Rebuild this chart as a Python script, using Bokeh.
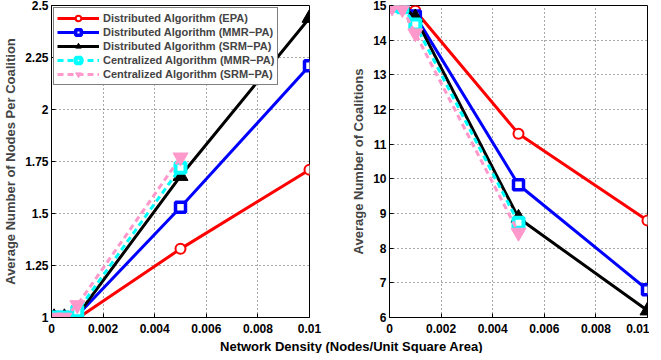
from bokeh.plotting import figure
from bokeh.layouts import column, row
from bokeh.models import Range1d, FixedTicker, Legend, LegendItem
from bokeh.core.properties import value
from bokeh.embed import file_html
from bokeh.resources import INLINE

# ---- data ----
density = [0.0001, 0.0005, 0.001, 0.005, 0.01]
density_c = [0.0001, 0.0005, 0.001, 0.005]

nodes_epa = [1.0, 1.0, 0.995, 1.33, 1.71]
nodes_mmr = [1.0, 1.0, 1.01, 1.53, 2.21]
nodes_srm = [1.0, 1.0, 1.01, 1.68, 2.44]
nodes_c_mmr = [1.0, 1.0, 1.03, 1.72]
nodes_c_srm = [1.0, 1.0, 1.06, 1.77]

coal_epa = [15.0, 15.0, 14.85, 11.3, 8.8]
coal_mmr = [15.0, 15.0, 14.7, 9.83, 6.8]
coal_srm = [15.0, 15.0, 14.65, 8.87, 6.2]
coal_c_mmr = [15.0, 14.95, 14.45, 8.73]
coal_c_srm = [14.95, 14.9, 14.2, 8.45]

x_ticks = [0, 0.002, 0.004, 0.006, 0.008, 0.01]
x_tick_labels = ["0", "0.002", "0.004", "0.006", "0.008", "0.01"]
nodes_ticks = [1, 1.25, 1.5, 1.75, 2, 2.25, 2.5]
nodes_tick_labels = ["1", "1.25", "1.5", "1.75", "2", "2.25", "2.5"]
coal_ticks = [6, 7, 8, 9, 10, 11, 12, 13, 14, 15]

names = ["Distributed Algorithm (EPA)", "Distributed Algorithm (MMR\u2212PA)",
         "Distributed Algorithm (SRM\u2212PA)", "Centralized Algorithm (MMR\u2212PA)",
         "Centralized Algorithm (SRM\u2212PA)"]

FONT = "Liberation Sans"
RED, BLUE, BLACK, CYAN, PINK = "#FF0000", "#0000FF", "#000000", "#00FFFF", "#FF99CC"


def style(p, yticks, ylabels, ylabel):
    p.xaxis.ticker = FixedTicker(ticks=x_ticks)
    p.xaxis.major_label_overrides = dict(zip(x_ticks, x_tick_labels))
    p.yaxis.ticker = FixedTicker(ticks=yticks)
    p.yaxis.major_label_overrides = dict(zip(yticks, ylabels))
    for ax in (p.xaxis, p.yaxis):
        ax.major_label_text_font = FONT
        ax.major_label_text_font_style = "bold"
        ax.major_label_text_font_size = "12px"
        ax.major_label_text_color = "black"
        ax.axis_line_color = "black"
        ax.major_tick_in = 4
        ax.major_tick_out = 0
        ax.minor_tick_line_color = None
        ax.major_label_standoff = 3
    p.xaxis.major_label_standoff = 6
    p.yaxis.axis_label = ylabel
    p.yaxis.axis_label_text_font = FONT
    p.yaxis.axis_label_text_font_style = "bold"
    p.yaxis.axis_label_text_font_size = "13px"
    p.yaxis.axis_label_standoff = 4
    p.grid.grid_line_color = "#555555"
    p.grid.grid_line_dash = "1 3"
    p.grid.grid_line_width = 1
    p.outline_line_color = "black"
    p.outline_line_width = 1
    p.background_fill_color = "white"


def draw(p, xs, ys, color, marker, dash, fill, size, lw):
    r1 = p.line(xs, ys, line_color=color, line_width=3, line_dash=dash)
    r2 = p.scatter(xs, ys, marker=marker, size=size, line_color=color,
                   fill_color=fill, line_width=lw)
    return [r1, r2]


def series(p, d):
    return [
        draw(p, density, d[0], RED, "circle", "solid", "white", 10, 2),
        draw(p, density, d[1], BLUE, "square", "solid", "white", 10, 3.5),
        draw(p, density, d[2], BLACK, "triangle", "solid", BLACK, 15, 1),
        draw(p, density_c, d[3], CYAN, "square", "6 4", "white", 10, 4),
        draw(p, density_c, d[4], PINK, "inverted_triangle", "6 4", PINK, 15, 1),
    ]


# ---- left plot ----
p1 = figure(frame_width=258, frame_height=312, output_backend="svg",
            toolbar_location=None,
            x_range=Range1d(0, 0.01), y_range=Range1d(1, 2.5),
            min_border_left=47, min_border_right=14, min_border_top=5,
            min_border_bottom=22)
style(p1, nodes_ticks, nodes_tick_labels, "Average Number of Nodes Per Coalition")
rs = series(p1, [nodes_epa, nodes_mmr, nodes_srm, nodes_c_mmr, nodes_c_srm])
legend = Legend(items=[LegendItem(label=n, renderers=r) for n, r in zip(names, rs)],
                location="top_left")
legend.label_text_font = FONT
legend.label_text_font_style = "bold"
legend.label_text_font_size = "11px"
legend.border_line_color = "black"
legend.border_line_width = 1
legend.background_fill_alpha = 1
legend.glyph_width = 42
legend.glyph_height = 14
legend.label_height = 14
legend.spacing = 0
legend.padding = 3
legend.margin = 2
legend.label_standoff = 4
p1.add_layout(legend)

# ---- right plot ----
p2 = figure(frame_width=258, frame_height=312, output_backend="svg",
            toolbar_location=None,
            x_range=Range1d(0, 0.01), y_range=Range1d(6, 15),
            min_border_left=66, min_border_right=2, min_border_top=5,
            min_border_bottom=22)
style(p2, coal_ticks, [str(t) for t in coal_ticks], "Average Number of Coalitions")
series(p2, [coal_epa, coal_mmr, coal_srm, coal_c_mmr, coal_c_srm])

# ---- shared x label ----
p3 = figure(width=645, height=14, output_backend="svg", toolbar_location=None,
            x_range=Range1d(0, 645), y_range=Range1d(0, 14),
            min_border=0)
p3.axis.visible = False
p3.grid.visible = False
p3.outline_line_color = None
p3.text(x=[351], y=[7], text=["Network Density (Nodes/Unit Square Area)"],
        text_font=value(FONT), text_font_style="bold", text_font_size="13px",
        text_align="center", text_baseline="middle", text_color="black")

layout = column(row(p1, p2), p3)
open("out.html", "w").write(file_html(layout, INLINE))
